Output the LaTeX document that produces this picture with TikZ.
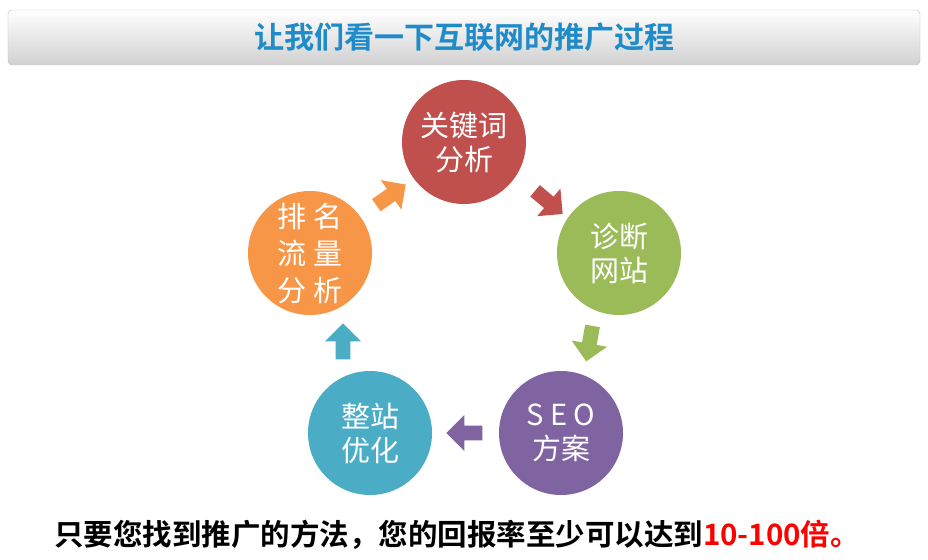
\documentclass[tikz,border=0pt]{standalone}
\usepackage{fontspec}
\setmainfont{Noto Sans CJK SC Bold}
\newfontfamily\lightcjk{Noto Sans CJK SC}
\usetikzlibrary{shapes.arrows}
\definecolor{cred}{HTML}{C0504D}
\definecolor{cgreen}{HTML}{9BBB59}
\definecolor{cpurple}{HTML}{8064A2}
\definecolor{cteal}{HTML}{4BACC6}
\definecolor{corange}{HTML}{F79646}
\definecolor{ctitle}{HTML}{1F8BC9}
\begin{document}
\begin{tikzpicture}[x=1pt,y=-1pt,
  step circ/.style={circle,minimum size=124pt,inner sep=0pt,text=white,font=\lightcjk\fontsize{29}{34}\selectfont,align=center},
  blk/.style={single arrow,minimum height=36pt,minimum width=36pt,single arrow head extend=6pt,inner sep=4pt,draw=none}]
\useasboundingbox[fill=white] (0,0) rectangle (928,559);
\shade[top color=white,bottom color=black!18,draw=black!25,rounded corners=4pt] (8,10) rectangle (920,65);
\node[text=ctitle,font=\fontsize{30}{34}\selectfont] (title) at (464,37) {让我们看一下互联网的推广过程};
\node[step circ,fill=cred] (c1) at (464,142) {关键词\\分析};
\node[step circ,fill=cgreen] (c2) at (619,253) {诊断\\网站};
\node[step circ,fill=cpurple] (c3) at (561,433) {S E O\\方案};
\node[step circ,fill=cteal] (c4) at (370,433) {整站\\优化};
\node[step circ,fill=corange,font=\lightcjk\fontsize{29}{37}\selectfont] (c5) at (310,253) {排 名\\流 量\\分 析};
\node[blk,fill=corange,rotate=35] (a5) at (388,197) {};
\node[blk,fill=cred,rotate=-40] (a1) at (546,200) {};
\node[blk,fill=cgreen,rotate=-100] (a2) at (590,340) {};
\node[blk,fill=cpurple,rotate=180] (a3) at (468,433) {};
\node[blk,fill=cteal,rotate=90] (a4) at (343,345) {};
\node[font=\fontsize{29.5}{32}\selectfont] (bottom) at (457,535) {只要您找到推广的方法，您的回报率至少可以达到\textcolor{red}{10-100倍。}};
\end{tikzpicture}
\end{document}
